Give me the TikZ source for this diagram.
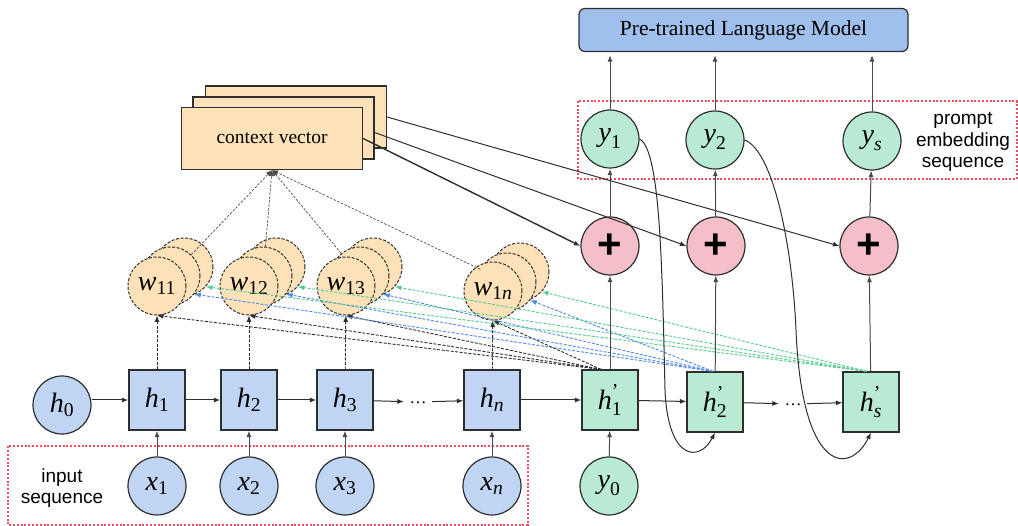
\documentclass[tikz,border=0pt]{standalone}
\usepackage{fontspec}
\usepackage{amsmath}
\setmainfont{Liberation Serif}
\setsansfont{Liberation Sans}
\usetikzlibrary{arrows.meta,calc}
\definecolor{bfill}{HTML}{C0D5F3}
\definecolor{gfill}{HTML}{B9EBD4}
\definecolor{pfill}{HTML}{F5BFCA}
\definecolor{ofill}{HTML}{FDE2B9}
\definecolor{plmfill}{HTML}{9FBFED}
\definecolor{reddot}{HTML}{F04C66}
\definecolor{bdash}{HTML}{4F88E8}
\definecolor{gdash}{HTML}{52CB8C}
\definecolor{edgec}{HTML}{2E2E2E}
\definecolor{lgray}{HTML}{4A4A4A}
\newcommand\vlab[2]{$\textit{#1}_{#2}$}
\newcommand\vlabp[2]{$\textit{#1}^{\textrm{'}}_{#2}$}
\begin{document}
\begin{tikzpicture}[x=1pt,y=-1pt,
  mathfont/.style={font=\fontsize{28}{30}\selectfont},
  circ/.style={circle, draw=edgec, line width=1.2pt, minimum size=58pt, inner sep=0pt, mathfont},
  bcirc/.style={circ, fill=bfill},
  gcirc/.style={circ, fill=gfill},
  pcirc/.style={circ, fill=pfill, font=\sffamily\bfseries\fontsize{42}{42}\selectfont},
  wcirc/.style={circ, fill=ofill, dash pattern=on 3pt off 1.6pt, line width=1pt, font=\fontsize{28}{30}\selectfont},
  hbox/.style={rectangle, draw=edgec, line width=1.2pt, minimum width=56pt, minimum height=60pt, inner sep=0pt, mathfont},
  bbox/.style={hbox, fill=bfill},
  gbox/.style={hbox, fill=gfill},
  cvrect/.style={rectangle, draw=edgec, line width=1.2pt, fill=ofill, minimum width=181pt, minimum height=62pt, inner sep=0pt, font=\fontsize{19.5}{21}\selectfont},
  dotnode/.style={inner sep=0pt, minimum width=28pt, text height=3pt, text depth=0pt, font=\fontsize{17}{17}\selectfont},
  arr/.style={draw=edgec, line width=1pt, -{Latex[length=6.5pt,width=5pt]}},
  varr/.style={draw=lgray, line width=1pt, -{Latex[length=6.5pt,width=5pt]}},
  darr/.style={draw=edgec, line width=0.9pt, dash pattern=on 3pt off 1.5pt, -{Latex[length=6.5pt,width=5pt]}},
  thinarr/.style={draw=lgray, line width=0.7pt, dash pattern=on 2.5pt off 1.5pt, -{Latex[length=6pt,width=5pt]}},
  barr/.style={draw=bdash, line width=0.9pt, dash pattern=on 3pt off 1.5pt, -{Latex[length=6.5pt,width=5pt]}},
  garr/.style={draw=gdash, line width=0.9pt, dash pattern=on 3pt off 1.5pt, -{Latex[length=6.5pt,width=5pt]}},
  reddotted/.style={draw=reddot, line width=2pt, dash pattern=on 2pt off 1.8pt},
  sanslab/.style={font=\sffamily\fontsize{19}{21.7}\selectfont, align=center, inner sep=0pt}
]
\useasboundingbox (0,0) rectangle (1018,526);

% dotted group boxes
\draw[reddotted] (7.5,446.5) rectangle (528,524.5);
\draw[reddotted] (578,101) rectangle (1016.5,179);
\node[sanslab] (inlab) at (62,488) {input\\sequence};
\node[sanslab] (prlab) at (963,142) {prompt\\embedding\\sequence};

% pre-trained language model
\node[rectangle, rounded corners=6pt, draw=edgec, line width=1.2pt, fill=plmfill, minimum width=329pt, minimum height=43pt, font=\fontsize{21.5}{23}\selectfont] (plm) at (743.5,30) {Pre-trained Language Model};

% context vector stack
\node[cvrect] (cvb) at (296,117) {};
\node[cvrect] (cvm) at (283.5,128) {};
\node[cvrect] (cv) at (272,138.5) {context vector};

% encoder row
\node[bcirc] (h0) at (62,405) {\vlab{h}{\textrm{0}}};
\node[bbox] (h1) at (157,400) {\vlab{h}{\textrm{1}}};
\node[bbox] (h2) at (249,400) {\vlab{h}{\textrm{2}}};
\node[bbox] (h3) at (345,400) {\vlab{h}{\textrm{3}}};
\node[dotnode] (d1) at (418,402) {\dots};
\node[bbox] (hn) at (492,400) {\vlab{h}{\textit{n}}};

\node[bcirc] (x1) at (157,486) {\vlab{x}{\textrm{1}}};
\node[bcirc] (x2) at (249,486) {\vlab{x}{\textrm{2}}};
\node[bcirc] (x3) at (345,486) {\vlab{x}{\textrm{3}}};
\node[bcirc] (xn) at (492,486) {\vlab{x}{\textit{n}}};

% decoder row
\node[gbox] (h1p) at (610,400) {\vlabp{h}{\textrm{1}}};
\node[gbox] (h2p) at (715,402) {\vlabp{h}{\textrm{2}}};
\node[dotnode] (d2) at (793,404) {\dots};
\node[gbox] (hsp) at (871,402) {\vlabp{h}{\textit{s}}};
\node[gcirc] (y0) at (609,486) {\vlab{y}{\textrm{0}}};

\node[pcirc] (p1) at (610,246) {+};
\node[pcirc] (p2) at (716,246) {+};
\node[pcirc] (p3) at (869,246) {+};

\node[gcirc] (y1) at (610,139) {\vlab{y}{\textrm{1}}};
\node[gcirc] (y2) at (715,140) {\vlab{y}{\textrm{2}}};
\node[gcirc] (ys) at (872,141) {\vlab{y}{\textit{s}}};

% weight stacks
\node[wcirc] (w11c) at (184,267) {};
\node[wcirc] (w11b) at (171,276) {};
\node[wcirc] (w11) at (157,286) {\vlab{w}{\textrm{11}}};
\node[wcirc] (w12c) at (276,267) {};
\node[wcirc] (w12b) at (263,276) {};
\node[wcirc] (w12) at (249,286) {\vlab{w}{\textrm{12}}};
\node[wcirc] (w13c) at (373,267) {};
\node[wcirc] (w13b) at (360,276) {};
\node[wcirc] (w13) at (346,286) {\vlab{w}{\textrm{13}}};
\node[wcirc] (w1nc) at (520,272) {};
\node[wcirc] (w1nb) at (507,282) {};
\node[wcirc] (w1n) at (493,291) {\vlab{w}{\textrm{1}\textit{n}}};

% encoder connections
\draw[arr] (h0.east |- h1.west) -- (h1.west);
\draw[arr] (h1) -- (h2);
\draw[arr] (h2) -- (h3);
\draw[arr] (h3) -- (d1);
\draw[arr] (d1) -- (hn);
\draw[arr] (hn) -- (h1p);
\draw[arr] (h1p) -- (h2p);
\draw[arr] (h2p) -- (d2);
\draw[arr] (d2) -- (hsp);

\draw[varr] (x1) -- (h1);
\draw[varr] (x2) -- (h2);
\draw[varr] (x3) -- (h3);
\draw[varr] (xn) -- (hn);
\draw[varr] (y0) -- (h1p);

\draw[darr] (h1) -- (w11);
\draw[darr] (h2) -- (w12);
\draw[darr] (h3) -- (w13);
\draw[darr] (hn) -- (w1n);

% attention lines from decoder states
\coordinate (a1) at ([xshift=-9pt]h1p.north);
\coordinate (a2) at ([xshift=-2pt]h2p.north);
\coordinate (a3) at ([xshift=-4pt]hsp.north);
\draw[darr] (a1) -- (w11.south);
\draw[darr] (a1) -- (w12.south);
\draw[darr] (a1) -- (w13.south);
\draw[darr] (a1) -- (w1n.south);
\draw[barr] (a2) -- (w11b.-38);
\draw[barr] (a2) -- (w12b.-38);
\draw[barr] (a2) -- (w13b.-38);
\draw[barr] (a2) -- (w1nb.-38);
\draw[garr] (a3) -- (w11c.-42);
\draw[garr] (a3) -- (w12c.-42);
\draw[garr] (a3) -- (w13c.-42);
\draw[garr] (a3) -- (w1nc.-42);

% weights to context vector
\draw[thinarr] (w11b) -- (cv.south);
\draw[thinarr] (w12b) -- (cv.south);
\draw[thinarr] (w13b) -- (cv.south);
\draw[thinarr] (w1nb) -- (cv.south);

% context vectors to adders
\draw[arr, line width=1.4pt] (cv.east) -- (p1.west);
\draw[arr] ([yshift=-4.5pt]cvm.east) -- (p2.west);
\draw[arr] (cvb.east) -- (p3.west);

% decoder verticals
\draw[varr] (h1p) -- (p1);
\draw[varr] (h2p) -- (p2);
\draw[varr] (hsp) -- (p3);
\draw[varr] (p1) -- (y1);
\draw[varr] (p2) -- (y2);
\draw[varr] (p3) -- (ys);
\draw[varr, shorten >=3pt] (y1.north) -- (y1.north |- plm.south);
\draw[varr, shorten >=3pt] (y2.north) -- (y2.north |- plm.south);
\draw[varr, shorten >=3pt] (ys.north) -- (ys.north |- plm.south);

% feedback curves
\draw[arr] (y1.east) .. controls (660,150) and (662,260) .. (665,390)
  .. controls (668,462) and (700,462) .. (h2p.south);
\draw[arr] (y2.east) .. controls (772,150) and (792,240) .. (796,330)
  .. controls (802,475) and (850,475) .. (hsp.south);
\end{tikzpicture}
\end{document}
